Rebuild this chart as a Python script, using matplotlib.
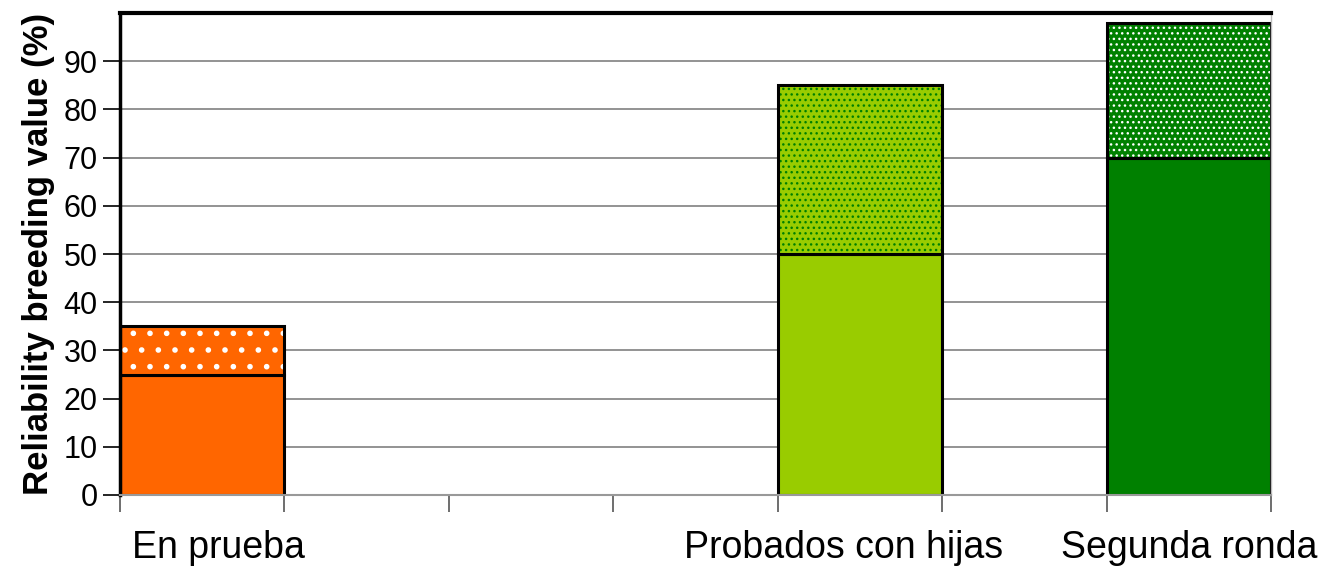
import matplotlib.pyplot as plt
import matplotlib.transforms as mtransforms

plt.rcParams['font.family'] = ['Liberation Sans', 'DejaVu Sans']
plt.rcParams['hatch.linewidth'] = 1.0

# data
n_slots = 7
bar_pos = [0, 4, 6]
labels = ['En prueba', 'Probados con hijas', 'Segunda ronda']
label_x = [0.1, 3.9, 6.0]
base_vals = [25, 50, 70]
top_vals = [35, 85, 98]
extra_vals = [t - b for t, b in zip(top_vals, base_vals)]

colors = ['#FF6600', '#99CC00', '#008000']
hatch_colors = ['white', '#008000', 'white']
hatches = ['.', '...', '...']

fig = plt.figure(figsize=(13.26, 5.70), dpi=100)
ax = fig.add_axes([120 / 1326, 75 / 570, 1151 / 1326, 482 / 570])

# gridlines
ax.set_axisbelow(True)
ax.yaxis.grid(True, color='#808080', linewidth=1.2)

for i in range(len(bar_pos)):
    # solid bottom part
    ax.bar(bar_pos[i], base_vals[i], width=1.0, color=colors[i],
           edgecolor='black', linewidth=2.2)
    # hatched top part
    with plt.rc_context({'hatch.linewidth': 1.6 if i == 0 else 1.0}):
        ax.bar(bar_pos[i], extra_vals[i], bottom=base_vals[i], width=1.0,
               color=colors[i], edgecolor=hatch_colors[i], hatch=hatches[i],
               linewidth=0)
    ax.bar(bar_pos[i], extra_vals[i], bottom=base_vals[i], width=1.0,
           facecolor='none', edgecolor='black', linewidth=2.2)

ax.set_xlim(-0.5, n_slots - 0.5)
ax.set_ylim(0, 100)
ax.set_yticks(range(0, 100, 10))
ax.set_xticks([k - 0.5 for k in range(n_slots + 1)])
ax.set_xticklabels([])

ax.tick_params(axis='y', labelsize=22, length=12, width=1.2, pad=4)
ax.tick_params(axis='x', length=12, width=1.2, color='#555555')

ax.spines['left'].set_linewidth(2.5)
ax.spines['top'].set_linewidth(3)
ax.spines['right'].set_color('#bbbbbb')
ax.spines['right'].set_linewidth(1)
ax.spines['bottom'].set_color('#999999')
ax.spines['bottom'].set_linewidth(1.5)

ax.set_ylabel('Reliability breeding value (%)', fontsize=25,
              fontweight='bold', labelpad=6)

trans = mtransforms.blended_transform_factory(ax.transData, ax.transAxes)
for x, lab in zip(label_x, labels):
    ax.text(x, -0.11, lab, transform=trans, ha='center', va='center',
            fontsize=27)

plt.savefig('out.png', dpi=100)
